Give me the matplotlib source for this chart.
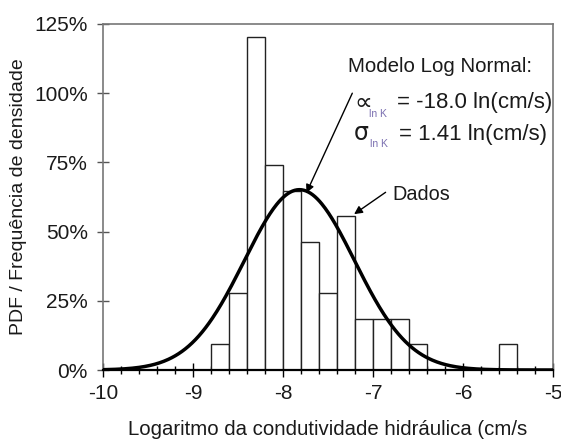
import numpy as np
import matplotlib.pyplot as plt

plt.rcParams['font.family'] = ['Liberation Sans', 'DejaVu Sans']
plt.rcParams['axes.unicode_minus'] = False

# histogram bins (log10 K, left edges) and heights in %
bin_left = [-8.8, -8.6, -8.4, -8.2, -8.0, -7.8, -7.6, -7.4, -7.2, -7.0, -6.8, -6.6, -5.6]
freq = [9.3, 27.8, 120.4, 74.1, 64.8, 46.3, 27.8, 55.6, 18.5, 18.5, 18.5, 9.3, 9.3]
bin_width = 0.2

# log normal model, parameters in ln(cm/s)
mu_ln = -18.0
sigma_ln = 1.41
mu = mu_ln / np.log(10)
sigma = sigma_ln / np.log(10)

x = np.linspace(-10, -5, 400)
pdf = 100 * np.exp(-0.5 * ((x - mu) / sigma) ** 2) / (sigma * np.sqrt(2 * np.pi))

txt = '#1a1a1a'
sub = '#7a6fb0'

fig = plt.figure(figsize=(5.61, 4.42), dpi=100)
ax = fig.add_axes([103 / 561, 72 / 442, 450 / 561, 346 / 442])

ax.bar(bin_left, freq, width=bin_width, align='edge', color='white',
       edgecolor='#222222', linewidth=1.0, zorder=2)
ax.plot(x, pdf, color='black', lw=2.5, zorder=3)

ax.set_xlim(-10, -5)
ax.set_ylim(0, 125)
ax.set_xticks(np.arange(-10, -4.9, 1))
ax.set_xticks(np.arange(-10, -4.9, 0.2), minor=True)
ax.set_xticklabels(['-10', '-9', '-8', '-7', '-6', '-5'])
ax.set_yticks(np.arange(0, 126, 25))
ax.set_yticklabels([f'{v}%' for v in range(0, 126, 25)])

ax.tick_params(axis='x', which='major', direction='inout', length=10, width=1, pad=5,
               labelsize=15, labelcolor=txt)
ax.tick_params(axis='x', which='minor', direction='inout', length=6, width=1)
ax.tick_params(axis='y', direction='inout', length=8, width=1, pad=7,
               labelsize=15, labelcolor=txt, color='#555555')

for s in ['left', 'right', 'top']:
    ax.spines[s].set_color('#777777')
    ax.spines[s].set_linewidth(1.2)
ax.spines['bottom'].set_color('black')
ax.spines['bottom'].set_linewidth(1.6)

ax.set_xlabel('Logaritmo da condutividade hidráulica (cm/s', fontsize=14.7, color=txt, labelpad=12)
ax.set_ylabel('PDF / Frequência de densidade', fontsize=14, color=txt, labelpad=5)

# model text
ax.text(-6.26, 109.5, 'Modelo Log Normal:', fontsize=14.8, color=txt, ha='center', va='center')
ax.text(-7.21, 96.5, '∝', fontsize=18, color=txt, ha='left', va='center',
        family=['DejaVu Sans'])
ax.text(-7.04, 92.6, 'ln K', fontsize=7.5, color=sub, ha='left', va='center')
ax.text(-6.73, 96.5, '= -18.0 ln(cm/s)', fontsize=16, color=txt, ha='left', va='center')
ax.text(-7.21, 85.5, 'σ', fontsize=17, color=txt, ha='left', va='center',
        family=['DejaVu Sans'])
ax.text(-7.03, 81.8, 'ln K', fontsize=7.5, color=sub, ha='left', va='center')
ax.text(-6.71, 85.0, '= 1.41 ln(cm/s)', fontsize=16, color=txt, ha='left', va='center')

ax.annotate('', xy=(-7.74, 64.0), xytext=(-7.23, 100.0),
            arrowprops=dict(arrowstyle='-|>', color='black', lw=1.0,
                            mutation_scale=12, shrinkA=0, shrinkB=0))
ax.text(-6.79, 63.5, 'Dados', fontsize=14.3, color=txt, ha='left', va='center')
ax.annotate('', xy=(-7.21, 56.3), xytext=(-6.86, 64.2),
            arrowprops=dict(arrowstyle='-|>', color='black', lw=1.0,
                            mutation_scale=12, shrinkA=0, shrinkB=0))

fig.savefig('out.png', dpi=100)
